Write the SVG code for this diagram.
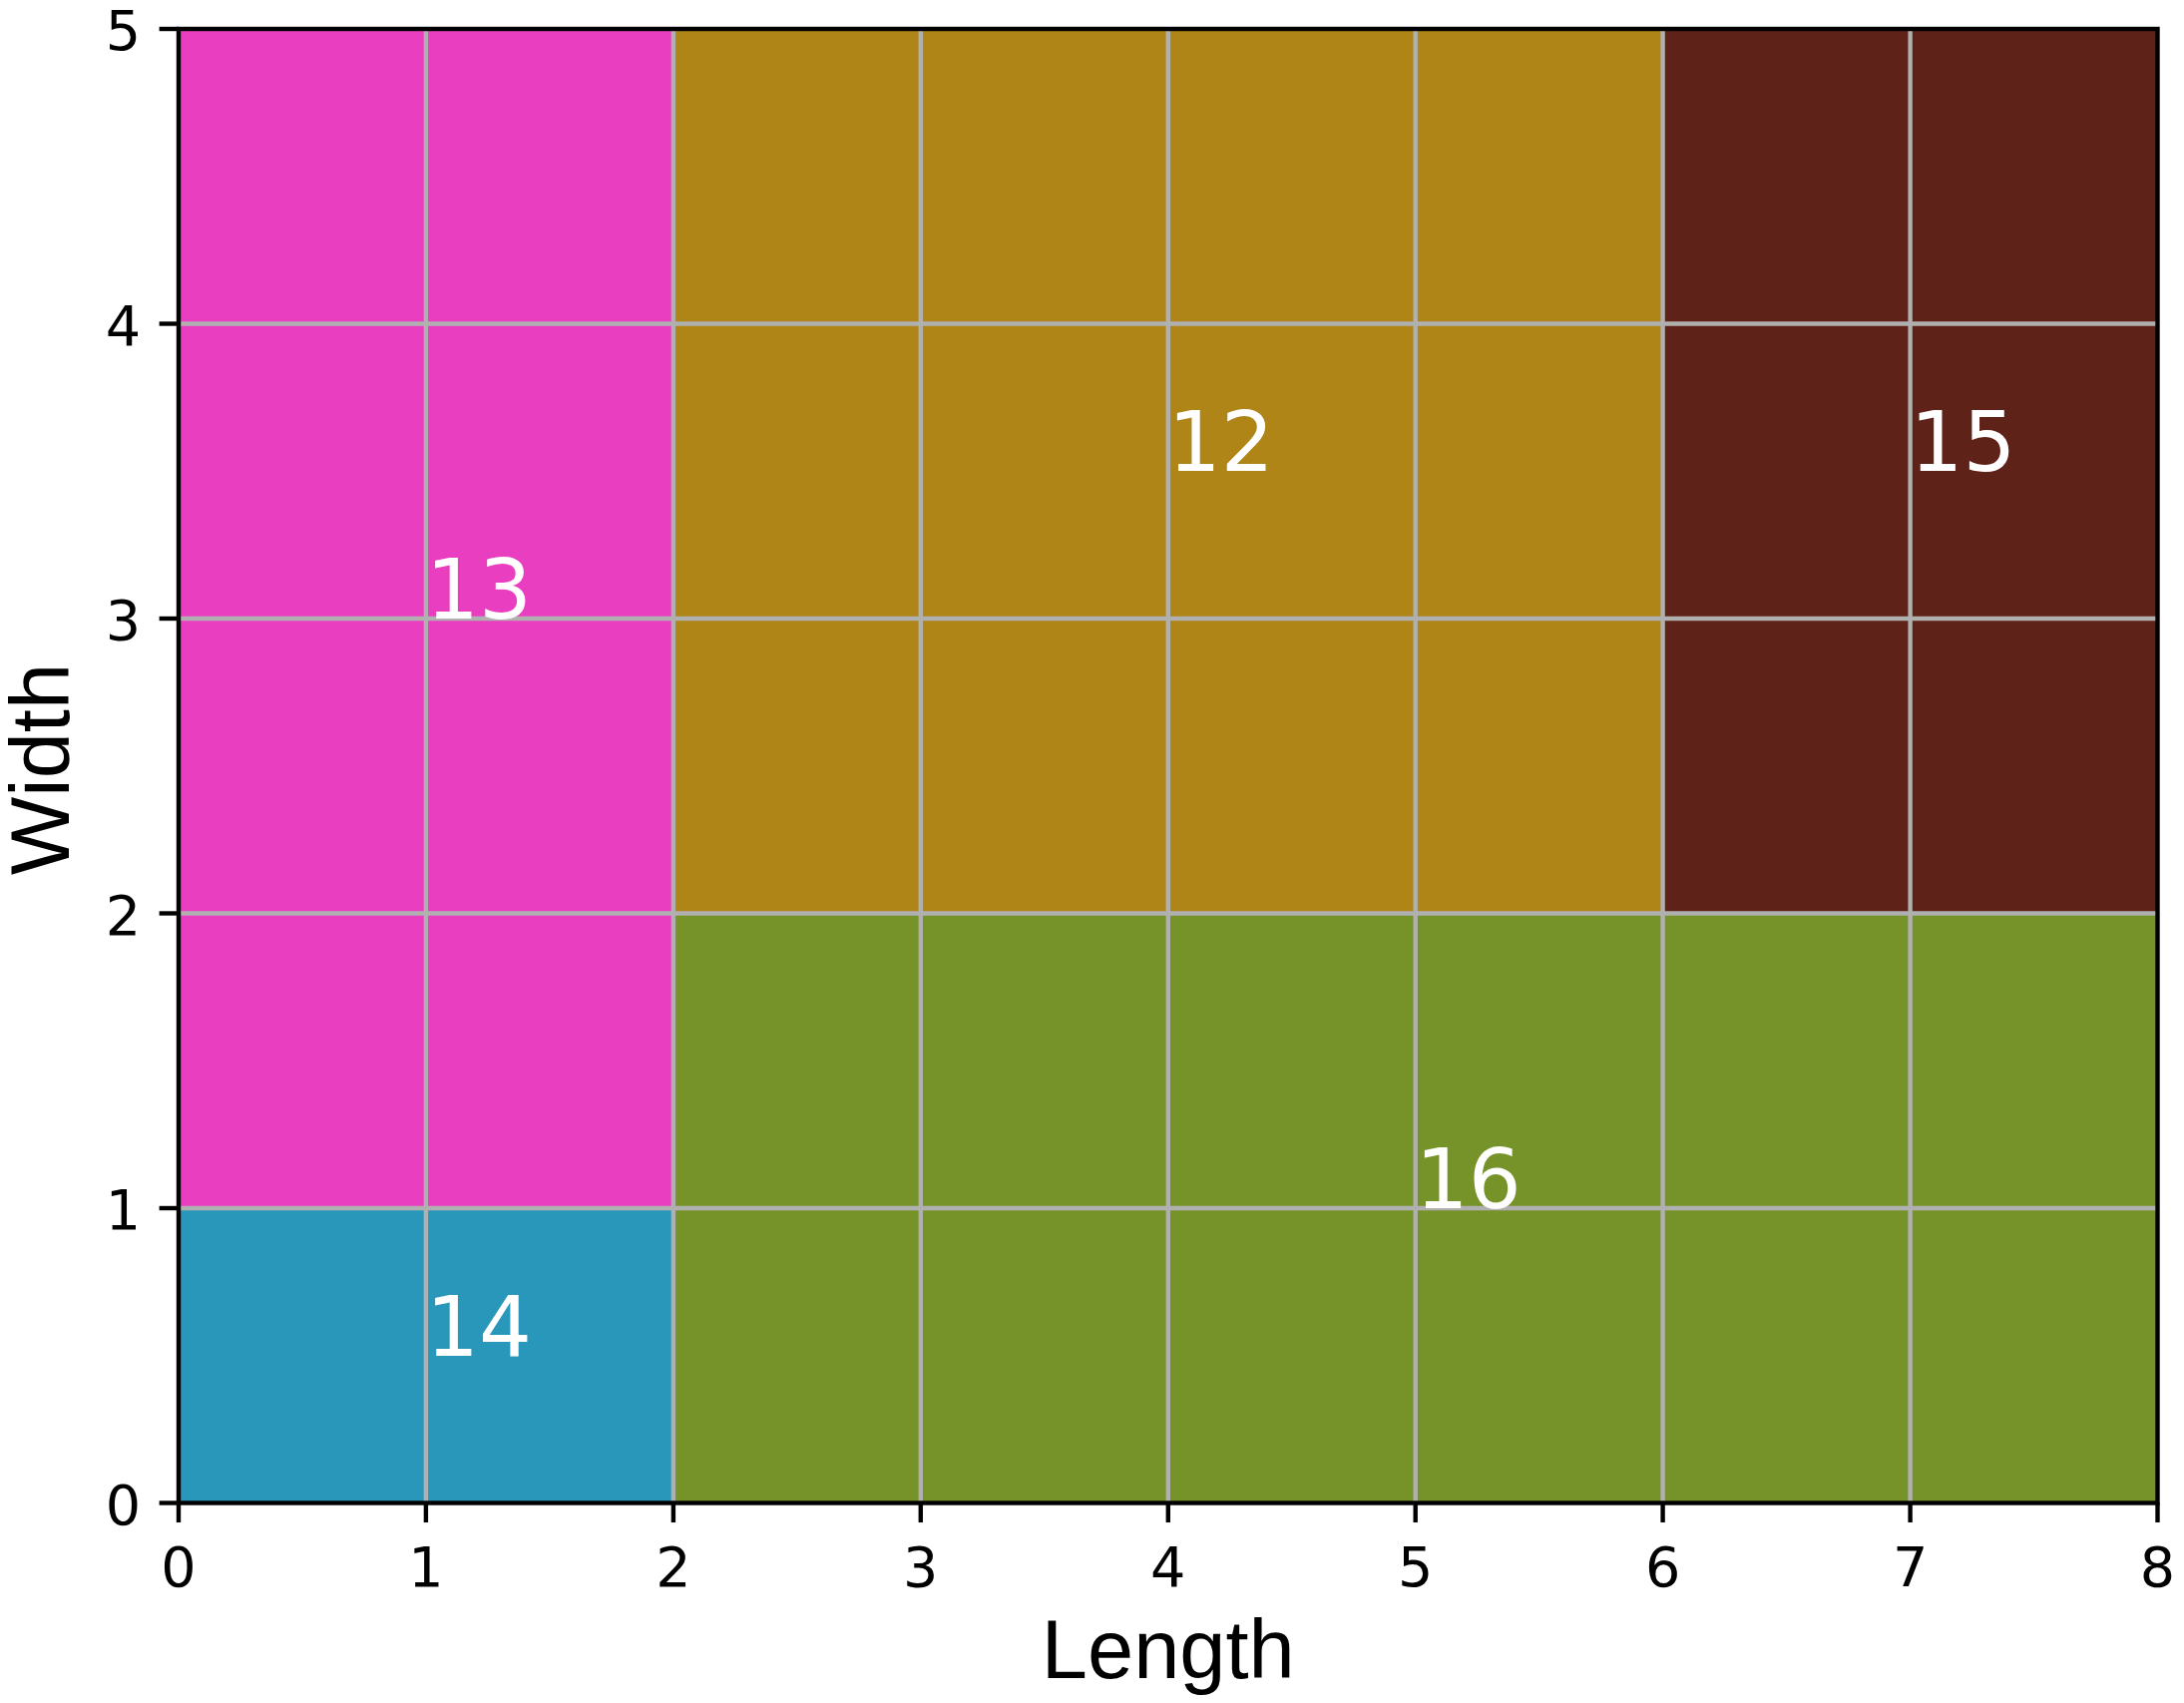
<svg xmlns="http://www.w3.org/2000/svg" width="2189" height="1707" viewBox="0 0 2189 1707">
<style>
.cell{stroke:#2ca02c;stroke-width:1.4}
.grid line{stroke:#b0b0b0;stroke-width:4.4}
.lbl{font-family:"DejaVu Sans",sans-serif;font-size:83.3px;fill:#ffffff}
.tick line{stroke:#000;stroke-width:4.4}
.tl{font-family:"DejaVu Sans",sans-serif;font-size:55.6px;fill:#000}
.ax{font-family:"Liberation Sans",Arial,sans-serif;font-size:83px;fill:#000}
</style>
<rect width="2189" height="1707" fill="#ffffff"/>
<g id="node-13"><rect class="cell" x="179" y="29" width="495.9" height="1182" fill="#ea3ec1"/></g>
<g id="node-14"><rect class="cell" x="179" y="1211" width="495.9" height="295.5" fill="#2997ba"/></g>
<g id="node-12"><rect class="cell" x="674.9" y="29" width="991.7" height="886.5" fill="#af8518"/></g>
<g id="node-15"><rect class="cell" x="1666.6" y="29" width="495.9" height="886.5" fill="#5e2219"/></g>
<g id="node-16"><rect class="cell" x="674.9" y="915.5" width="1487.6" height="591" fill="#759329"/></g>
<g id="connectors" class="grid">
<line x1="426.9" y1="29" x2="426.9" y2="1506.5"/>
<line x1="674.9" y1="29" x2="674.9" y2="1506.5"/>
<line x1="922.8" y1="29" x2="922.8" y2="1506.5"/>
<line x1="1170.8" y1="29" x2="1170.8" y2="1506.5"/>
<line x1="1418.7" y1="29" x2="1418.7" y2="1506.5"/>
<line x1="1666.6" y1="29" x2="1666.6" y2="1506.5"/>
<line x1="1914.6" y1="29" x2="1914.6" y2="1506.5"/>
<line x1="179" y1="1211" x2="2162.5" y2="1211"/>
<line x1="179" y1="915.5" x2="2162.5" y2="915.5"/>
<line x1="179" y1="620" x2="2162.5" y2="620"/>
<line x1="179" y1="324.5" x2="2162.5" y2="324.5"/>
</g>
<g id="labels">
<text class="lbl" x="426.9" y="620">13</text>
<text class="lbl" x="426.9" y="1358.75">14</text>
<text class="lbl" x="1170.8" y="472.25">12</text>
<text class="lbl" x="1914.6" y="472.25">15</text>
<text class="lbl" x="1418.7" y="1211">16</text>
</g>
<rect x="179" y="29" width="1983.5" height="1477.5" fill="none" stroke="#000" stroke-width="4.4"/>
<g id="ticks" class="tick">
<line x1="179" y1="1506.5" x2="179" y2="1526"/>
<line x1="426.9" y1="1506.5" x2="426.9" y2="1526"/>
<line x1="674.9" y1="1506.5" x2="674.9" y2="1526"/>
<line x1="922.8" y1="1506.5" x2="922.8" y2="1526"/>
<line x1="1170.8" y1="1506.5" x2="1170.8" y2="1526"/>
<line x1="1418.7" y1="1506.5" x2="1418.7" y2="1526"/>
<line x1="1666.6" y1="1506.5" x2="1666.6" y2="1526"/>
<line x1="1914.6" y1="1506.5" x2="1914.6" y2="1526"/>
<line x1="2162.5" y1="1506.5" x2="2162.5" y2="1526"/>
<line x1="159.6" y1="1506.5" x2="179" y2="1506.5"/>
<line x1="159.6" y1="1211" x2="179" y2="1211"/>
<line x1="159.6" y1="915.5" x2="179" y2="915.5"/>
<line x1="159.6" y1="620" x2="179" y2="620"/>
<line x1="159.6" y1="324.5" x2="179" y2="324.5"/>
<line x1="159.6" y1="29" x2="179" y2="29"/>
</g>
<g id="xticklabels" class="tl" text-anchor="middle">
<text x="179" y="1590">0</text>
<text x="426.9" y="1590">1</text>
<text x="674.9" y="1590">2</text>
<text x="922.8" y="1590">3</text>
<text x="1170.8" y="1590">4</text>
<text x="1418.7" y="1590">5</text>
<text x="1666.6" y="1590">6</text>
<text x="1914.6" y="1590">7</text>
<text x="2162.5" y="1590">8</text>
</g>
<g id="yticklabels" class="tl" text-anchor="end">
<text x="141" y="1527.5">0</text>
<text x="141" y="1232">1</text>
<text x="141" y="936.5">2</text>
<text x="141" y="641">3</text>
<text x="141" y="345.5">4</text>
<text x="141" y="50">5</text>
</g>
<text class="ax" x="1170.8" y="1682" text-anchor="middle">Length</text>
<text class="ax" transform="translate(69,771) rotate(-90)" text-anchor="middle">Width</text>
</svg>
